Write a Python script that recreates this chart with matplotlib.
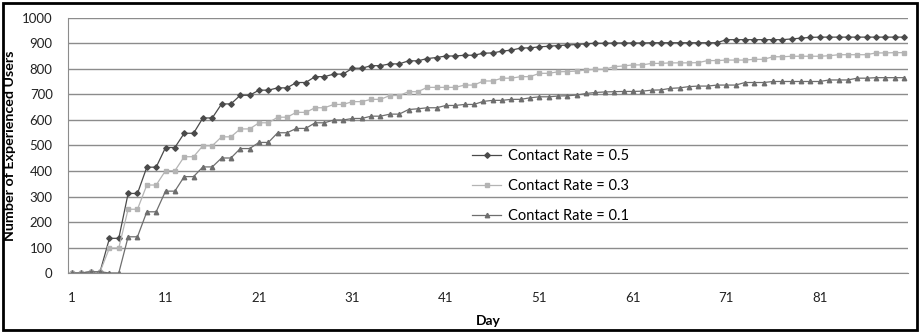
import matplotlib.pyplot as plt
from matplotlib.patches import Rectangle
import numpy as np

plt.rcParams['font.family'] = ['Lato', 'DejaVu Sans']

days = np.arange(1, 91)

# Contact Rate = 0.5
rate_05 = [0, 0, 5, 5, 136, 136, 312, 312, 415, 415,
           492, 492, 548, 548, 608, 608, 663, 663, 697, 697,
           717, 717, 726, 726, 747, 747, 770, 770, 780, 780,
           803, 803, 813, 813, 820, 820, 832, 832, 841, 845,
           851, 851, 854, 854, 862, 863, 870, 874, 882, 883,
           887, 889, 892, 894, 896, 899, 901, 901, 902, 902,
           902, 902, 903, 903, 903, 903, 903, 903, 903, 903,
           915, 915, 915, 915, 915, 915, 915, 918, 921, 924,
           925, 925, 925, 925, 925, 925, 925, 925, 925, 925]

# Contact Rate = 0.3
rate_03 = [0, 0, 5, 5, 98, 98, 250, 250, 345, 345,
           401, 401, 456, 456, 499, 499, 534, 534, 565, 565,
           589, 589, 611, 611, 630, 630, 648, 648, 661, 661,
           672, 672, 681, 681, 696, 696, 711, 711, 728, 728,
           728, 728, 737, 737, 753, 753, 764, 764, 770, 770,
           783, 783, 789, 790, 792, 796, 799, 799, 809, 812,
           816, 816, 822, 822, 824, 824, 824, 825, 833, 833,
           835, 835, 835, 838, 838, 848, 848, 850, 850, 850,
           850, 852, 856, 856, 856, 856, 863, 863, 864, 864]

# Contact Rate = 0.1
rate_01 = [0, 0, 5, 5, 0, 0, 142, 142, 240, 240,
           321, 321, 378, 378, 416, 416, 451, 451, 488, 488,
           512, 512, 550, 550, 567, 567, 589, 589, 600, 600,
           606, 606, 615, 615, 623, 623, 641, 644, 648, 648,
           657, 657, 661, 661, 673, 677, 677, 681, 681, 687,
           691, 691, 694, 695, 698, 704, 708, 710, 711, 712,
           712, 713, 717, 718, 724, 726, 731, 733, 733, 737,
           737, 737, 747, 747, 747, 751, 751, 751, 751, 751,
           751, 757, 757, 757, 764, 764, 766, 766, 766, 766]

fig = plt.figure(figsize=(9.23, 3.32), dpi=100)
ax = fig.add_axes([0.0737, 0.1777, 0.91, 0.7681])

ax.plot(days, rate_05, color='#4a4a4a', lw=0.9, marker='D', ms=2.8, label='Contact Rate = 0.5')
ax.plot(days, rate_03, color='#b4b4b4', lw=0.9, marker='s', ms=3.4, label='Contact Rate = 0.3')
ax.plot(days, rate_01, color='#6e6e6e', lw=0.9, marker='^', ms=3.2, label='Contact Rate = 0.1')

ax.set_xlim(0.57, 90.43)
ax.set_ylim(0, 1000)
ax.set_yticks(np.arange(0, 1001, 100))
ax.set_xticks(np.arange(1, 90, 10))
ax.yaxis.grid(True, color='#8c8c8c', lw=1)
ax.set_axisbelow(True)
for s in ['top', 'right']:
    ax.spines[s].set_visible(False)
ax.spines['left'].set_color('#8c8c8c')
ax.spines['bottom'].set_color('#8c8c8c')
ax.tick_params(length=0, labelsize=9.5, colors='#222222')
ax.tick_params(axis='y', pad=11)
ax.tick_params(axis='x', pad=14)

ax.set_xlabel('Day', fontsize=10, fontweight='bold')
ax.xaxis.set_label_coords(0.5, -0.165)
ax.set_ylabel('Number of Experienced Users', fontsize=10.3, fontweight='bold')
ax.yaxis.set_label_coords(-0.062, 0.5)

ax.legend(loc='upper left', bbox_to_anchor=(0.481, 0.485), frameon=False,
          fontsize=10.5, handlelength=2.0, handletextpad=0.5,
          labelspacing=1.1, borderpad=0, borderaxespad=0)

fig.patches.append(Rectangle((0.003, 0.006), 0.991, 0.985, transform=fig.transFigure,
                             fill=False, edgecolor='black', lw=2))

fig.savefig('out.png', dpi=100)
